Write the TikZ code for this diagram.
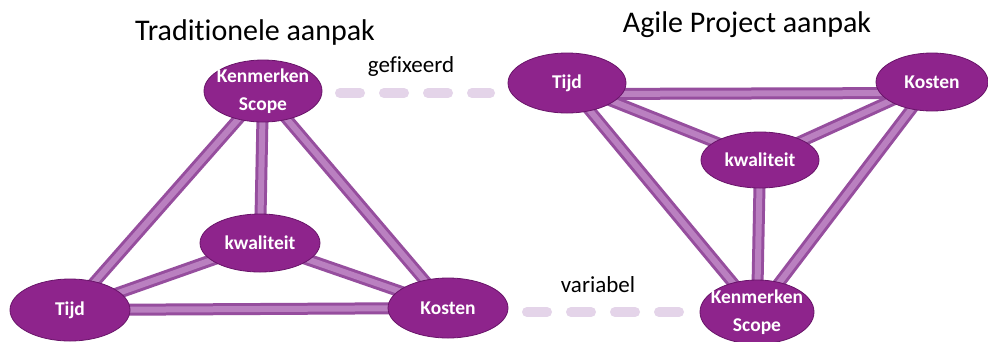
\documentclass[tikz,border=0pt]{standalone}
\usepackage{fontspec}
\setmainfont[Ligatures={NoCommon}]{Carlito}
\usetikzlibrary{shapes.geometric}
\pgfdeclarelayer{bg}
\pgfsetlayers{bg,main}
\definecolor{nodefill}{RGB}{142,36,140}
\definecolor{nodeedge}{RGB}{105,20,105}
\definecolor{barout}{RGB}{150,78,158}
\definecolor{barin}{RGB}{186,128,192}
\definecolor{dashcol}{RGB}{228,212,233}
\tikzset{
  blob/.style={ellipse, fill=nodefill, draw=nodeedge, line width=0.8pt, inner sep=0pt},
  blobtext/.style={text=white, inner sep=0pt, font=\fontsize{19.5}{27.5}\selectfont\bfseries, align=center},
  bar/.style={line width=12pt, draw=barout},
  barcore/.style={line width=6pt, draw=barin},
  fixline/.style={line width=10pt, draw=dashcol, line cap=round, dash pattern=on 20pt off 24pt},
  ttl/.style={anchor=base, font=\fontsize{30}{36}\selectfont, inner sep=0pt},
  lbl/.style={anchor=base, font=\fontsize{23}{28}\selectfont, inner sep=0pt}
}
\begin{document}
\begin{tikzpicture}[x=1pt,y=-1pt]
\useasboundingbox (0,0) rectangle (988,341);
% titles
\node[ttl] (t1) at (255,40) {Traditionele aanpak};
\node[ttl] (t2) at (747,32) {Agile Project aanpak};
\node[lbl] (fx) at (411,72) {gefixeerd};
\node[lbl] (vr) at (598,292) {variabel};
% left nodes
\node[blob, minimum width=118pt, minimum height=62pt, label={[blobtext]center:Kenmerken\\Scope}] (ls) at (263,91) {};
\node[blob, minimum width=120pt, minimum height=62pt, label={[blobtext]center:Tijd}] (lt) at (70,310) {};
\node[blob, minimum width=120pt, minimum height=60pt, label={[blobtext]center:Kosten}] (lk) at (448,308) {};
\node[blob, minimum width=120pt, minimum height=58pt, label={[blobtext]center:kwaliteit}] (lq) at (260,243) {};
% right nodes
\node[blob, minimum width=118pt, minimum height=60pt, label={[blobtext]center:Tijd}] (rt) at (567,83) {};
\node[blob, minimum width=112pt, minimum height=58pt, label={[blobtext]center:Kosten}] (rk) at (932,82) {};
\node[blob, minimum width=118pt, minimum height=56pt, label={[blobtext]center:kwaliteit}] (rq) at (760,160) {};
\node[blob, minimum width=114pt, minimum height=64pt, label={[blobtext]center:Kenmerken\\Scope}] (rs) at (757,312) {};
% dashed coordinates
\coordinate (g1) at (340,93);
\coordinate (g2) at (490,93);
\coordinate (v1) at (527,312);
\coordinate (v2) at (680,312);
\begin{pgfonlayer}{bg}
  \fill[white] (0,0) rectangle (988,341);
  \foreach \s in {bar,barcore}{
    \draw[\s] (ls.center) -- (lt.center);
    \draw[\s] (ls.center) -- (lk.center);
    \draw[\s] (lt.center) -- (lk.center);
    \draw[\s] (lq.center) -- (ls.center);
    \draw[\s] (lq.center) -- (lt.center);
    \draw[\s] (lq.center) -- (lk.center);
    \draw[\s] ([yshift=-11pt]rt.center) -- ([yshift=-11pt]rk.center);
    \draw[\s] (rt.center) -- (rs.center);
    \draw[\s] (rk.center) -- (rs.center);
    \draw[\s] (rq.center) -- (rt.center);
    \draw[\s] (rq.center) -- (rk.center);
    \draw[\s] (rq.center) -- (rs.center);
  }
  \draw[fixline] (g1) -- (g2);
  \draw[fixline] (v1) -- (v2);
\end{pgfonlayer}
\end{tikzpicture}
\end{document}
